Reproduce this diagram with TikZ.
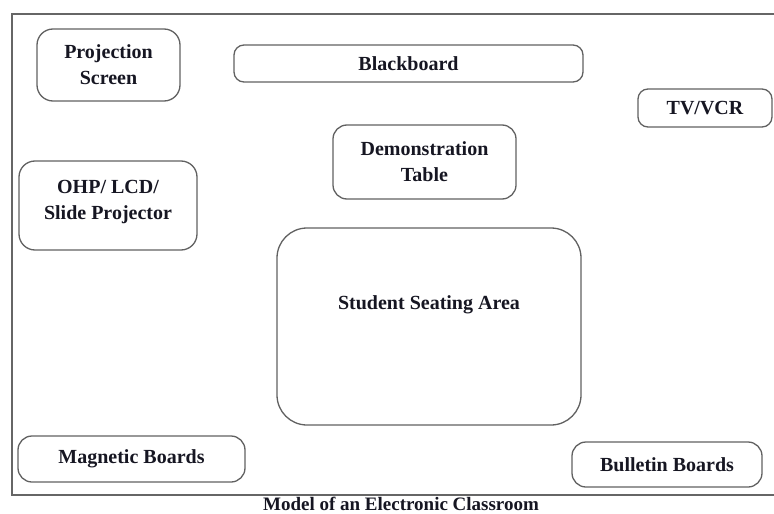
\documentclass[tikz,border=0pt]{standalone}
\usepackage{fontspec}
\setmainfont{Liberation Serif}
\usepackage{tikz}
\usetikzlibrary{positioning}
\definecolor{inkcolor}{RGB}{22,22,34}
\tikzset{
  wall/.style={line width=1.4pt, draw=black!60},
  item/.style={draw=black!62, line width=1.3pt, rounded corners=#1, align=center,
    font=\fontsize{20}{26}\selectfont\bfseries, text=inkcolor, inner sep=0pt},
  item/.default=12pt,
}

\begin{document}
\begin{tikzpicture}[x=1pt, y=-1pt]
    \clip (0,0) rectangle (774,514);
    \fill[white] (0,0) rectangle (774,514);
    \draw[wall] (12,14) rectangle (778,495);
    \node[item=16pt, minimum width=143pt, minimum height=72pt] (scr) at (108.5,65) {Projection\\ Screen};
    \node[item=10pt, minimum width=349pt, minimum height=37pt] (board) at (408.5,63.5) {Blackboard};
    \node[item=10pt, minimum width=134pt, minimum height=38pt] (tv) at (705,108) {TV/VCR};
    \node[item=14pt, minimum width=183pt, minimum height=74pt] (demo) at (424.5,162) {Demonstration\\ Table};
    \node[item=16pt, minimum width=178pt, minimum height=89pt, text depth=12pt] (ohp) at (108,205.5) {OHP/ LCD/\\ Slide Projector};
    \node[item=30pt, minimum width=304pt, minimum height=197pt, text depth=47pt] (seat) at (429,326.5) {Student Seating Area};
    \node[item=14pt, minimum width=227pt, minimum height=46pt] (mag) at (131.5,459) {Magnetic Boards};
    \node[item=14pt, minimum width=190pt, minimum height=45pt] (bul) at (667,464.5) {Bulletin Boards};
    \node[font=\fontsize{19}{22}\selectfont\bfseries, text=inkcolor, anchor=base, inner sep=0pt] (cap) at (401,510) {Model of an Electronic Classroom};
  \end{tikzpicture}
\end{document}
